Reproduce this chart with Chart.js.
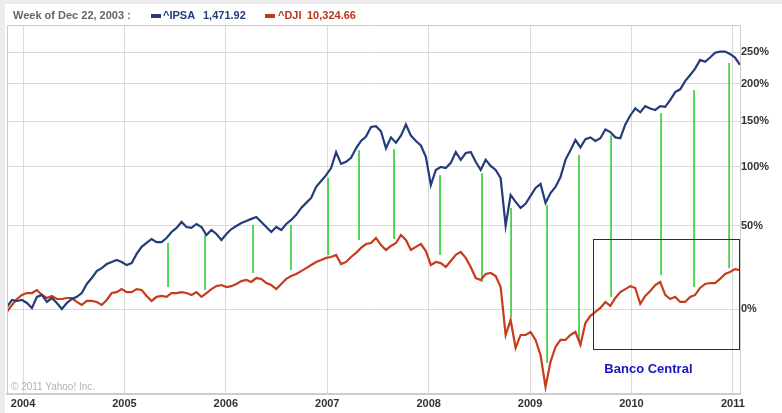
<!DOCTYPE html>
<html>
<head>
<meta charset="utf-8">
<script src="https://cdn.jsdelivr.net/npm/chart.js@4.4.1/dist/chart.umd.min.js"></script>
<style>
  body { margin: 0; background: #fff; }
  #wrap { position: relative; width: 782px; height: 413px; overflow: hidden; font-family: "Liberation Sans", Arial, sans-serif; }
  #wrap canvas { position: absolute; left: 0; top: 0; }
  .strip-top { position: absolute; left: 0; top: 0; width: 782px; height: 4px; background: #ececec; }
  .strip-left { position: absolute; left: 0; top: 0; width: 5px; height: 413px; background: #ececec; }
  .head { position: absolute; top: 9px; font-size: 11px; font-weight: bold; line-height: 13px; white-space: nowrap; }
  .swatch { position: absolute; top: 14px; width: 10px; height: 4px; }
  .copy { position: absolute; left: 11px; top: 381px; font-size: 10px; color: #b3b3b3; white-space: nowrap; }
</style>
</head>
<body>
<div id="wrap">
  <canvas id="ipsaChart" width="782" height="413"></canvas>
  <div class="strip-top"></div>
  <div class="strip-left"></div>
  <div class="head" style="left:13px;color:#666;">Week of Dec 22, 2003 :</div>
  <div class="swatch" style="left:151px;background:#243c7c;"></div>
  <div class="head" style="left:163px;color:#243c7c;">^IPSA</div>
  <div class="head" style="left:203px;color:#243c7c;">1,471.92</div>
  <div class="swatch" style="left:265px;background:#c0391c;"></div>
  <div class="head" style="left:278px;color:#b8371d;">^DJI</div>
  <div class="head" style="left:307px;color:#b8371d;">10,324.66</div>
  <div class="copy">© 2011 Yahoo! Inc.</div>
</div>
<script>
// weekly-ish samples, decimal years
const weekStart = 2003.842;
const weekStep = 0.04917;

// % change since Dec 22, 2003
const ipsaPct = [1.0, 4.5, 4.0, 4.5, 3.0, 0.5, 6.1, 7.1, 3.5, 5.5,
  3.0, 0.0, 3.0, 5.0, 6.1, 8.1, 13.0, 16.3, 20.3, 22.1,
  24.5, 25.8, 27.0, 25.8, 23.9, 25.1, 30.8, 35.4, 38.0, 40.7,
  38.6, 38.6, 41.4, 45.6, 48.5, 52.9, 49.2, 48.5, 51.4, 49.2,
  43.5, 47.0, 44.2, 40.0, 44.2, 47.7, 49.9, 52.1, 53.6, 55.2,
  56.7, 52.9, 49.2, 45.6, 49.2, 47.0, 51.4, 54.4, 58.3, 63.7,
  67.8, 71.9, 81.4, 86.7, 92.1, 98.9, 115, 103, 105, 109,
  119, 127, 132, 143, 144, 138, 119, 131, 125, 133,
  146, 133, 127, 122, 110, 83.1, 97.0, 100, 98.9, 104,
  115, 107, 114, 115, 105, 97.0, 107, 101, 97.0, 89.4,
  50.0, 74.4, 68.6, 63.7, 67.0, 73.6, 80.5, 84.0, 67.8, 76.1,
  81.4, 90.4, 107, 117, 128, 120, 129, 131, 127, 130,
  140, 137, 131, 130, 146, 157, 166, 161, 169, 166,
  164, 169, 168, 177, 188, 192, 204, 213, 223, 237,
  234, 241, 249, 251, 251, 247, 241, 229];

const djiPct = [-1.4, 2.0, 5.0, 7.1, 8.1, 8.1, 9.7, 7.1, 5.5, 6.6,
  5.0, 5.0, 5.5, 5.5, 3.5, 2.0, 4.0, 4.0, 3.5, 2.0,
  4.5, 8.1, 8.6, 10.2, 8.6, 8.6, 10.2, 9.7, 6.6, 4.0,
  6.1, 6.6, 6.1, 8.1, 8.1, 8.6, 8.1, 7.1, 8.6, 6.1,
  8.1, 10.2, 11.8, 12.4, 11.3, 11.8, 13.0, 14.6, 15.2, 14.1,
  16.3, 15.8, 13.5, 12.4, 10.2, 13.0, 15.8, 17.5, 18.6, 20.3,
  22.1, 23.9, 25.8, 27.0, 28.3, 28.9, 30.2, 24.5, 25.8, 28.9,
  31.5, 34.7, 37.3, 38.0, 41.4, 36.6, 33.4, 36.0, 38.0, 43.5,
  40.0, 33.4, 35.4, 37.3, 32.7, 23.9, 25.8, 25.1, 22.7, 26.4,
  30.2, 32.1, 28.3, 22.7, 16.3, 15.2, 18.6, 19.2, 17.5, 11.3,
  -11.9, -5.2, -17.3, -11.9, -11.9, -10.6, -14.0, -20.1, -31.6, -22.7,
  -16.9, -14.0, -14.0, -11.9, -10.6, -16.1, -6.6, -3.3, -1.4, 0.5,
  3.5, 1.5, 5.5, 8.6, 10.2, 11.8, 10.8, 2.5, 6.6, 9.2,
  12.4, 14.1, 7.1, 5.0, 6.1, 3.5, 3.5, 6.1, 7.1, 10.8,
  13.0, 13.5, 13.5, 15.8, 18.6, 19.8, 21.5, 20.9];

// green gap markers between the two series
const gapDates = [2005.43, 2005.795, 2006.268, 2006.643, 2007.008, 2007.314, 2007.659, 2008.112,
  2008.526, 2008.813, 2009.168, 2009.483, 2009.799, 2010.292, 2010.617, 2010.963];
const gapTop = [38.0, 43.5, 50.7, 50.7, 89.4, 117, 118, 92.1, 94, 63.7, 66.1, 112, 133, 160, 191, 232];
const gapBottom = [11.3, 9.7, 19.2, 20.9, 30.2, 40.0, 40.7, 30.2, 14.1, -3.8, -23.1, -14.8, 6.1, 18.0, 11.3, 22.1];

const yearTicks = [2004, 2005, 2006, 2007, 2008, 2009, 2010, 2011];
const pctTicks = [0, 50, 100, 150, 200, 250];

// "Banco Central" box
const boxDates = [2009.62, 2011.07];
const boxPct = [-17.7, 40.7];
const boxLabel = 'Banco Central';
const boxLabelAt = [2010.167, -25.4];

const ratio = p => 1 + p / 100;
const toPoints = arr => arr.map((p, i) => ({ x: weekStart + i * weekStep, y: ratio(p) }));

const gapPoints = [];
gapDates.forEach((d, i) => {
  gapPoints.push({ x: d, y: ratio(gapTop[i]) }, { x: d, y: ratio(gapBottom[i]) }, { x: d, y: null });
});

const tickFont = { family: '"Liberation Sans", Arial, sans-serif', size: 11, weight: 'bold' };

const frame = {
  id: 'frame',
  afterDatasetsDraw(chart) {
    const { ctx, chartArea: a, scales: { x, y } } = chart;
    ctx.save();
    ctx.strokeStyle = '#cccccc';
    ctx.lineWidth = 1;
    ctx.beginPath();
    ctx.moveTo(a.left + 0.5, a.bottom);
    ctx.lineTo(a.left + 0.5, a.top + 0.5);
    ctx.lineTo(a.right, a.top + 0.5);
    ctx.stroke();

    // box + label
    const x0 = Math.round(x.getPixelForValue(boxDates[0])) + 0.5;
    const x1 = Math.round(x.getPixelForValue(boxDates[1])) - 0.5;
    const y0 = Math.round(y.getPixelForValue(ratio(boxPct[1]))) + 0.5;
    const y1 = Math.round(y.getPixelForValue(ratio(boxPct[0]))) + 0.5;
    ctx.strokeStyle = '#1c1cb0';
    ctx.strokeRect(x0, y0, x1 - x0, y1 - y0);
    ctx.fillStyle = '#1616c0';
    ctx.font = 'bold 13px "Liberation Sans", Arial, sans-serif';
    ctx.textAlign = 'center';
    ctx.textBaseline = 'middle';
    ctx.fillText(boxLabel, x.getPixelForValue(boxLabelAt[0]), y.getPixelForValue(ratio(boxLabelAt[1])));
    ctx.restore();
  }
};

new Chart(document.getElementById('ipsaChart'), {
  type: 'line',
  data: {
    datasets: [
      { label: '^IPSA', data: toPoints(ipsaPct), borderColor: '#243c7c', borderWidth: 2.2, pointRadius: 0, tension: 0 },
      { label: '^DJI', data: toPoints(djiPct), borderColor: '#c63c1c', borderWidth: 2.2, pointRadius: 0, tension: 0 },
      { label: 'gap', data: gapPoints, borderColor: '#3fd23f', borderWidth: 1, pointRadius: 0, spanGaps: false }
    ]
  },
  options: {
    responsive: false,
    animation: false,
    layout: { padding: { left: 7, top: 25, right: 0, bottom: 0 } },
    plugins: { legend: { display: false }, tooltip: { enabled: false } },
    scales: {
      x: {
        type: 'linear',
        min: 2003.842,
        max: 2011.07,
        afterBuildTicks: s => { s.ticks = yearTicks.map(v => ({ value: v })); },
        afterFit: s => { s.height = 19; },
        grid: { color: '#dadada', drawTicks: false },
        border: { color: '#cccccc', width: 2 },
        ticks: { autoSkip: false, maxRotation: 0, padding: 3, color: '#333', font: tickFont, callback: v => String(v) }
      },
      y: {
        type: 'logarithmic',
        position: 'right',
        min: 0.6606,
        max: 3.996,
        afterBuildTicks: s => { s.ticks = pctTicks.map(p => ({ value: ratio(p) })); },
        afterFit: s => { s.width = 42; },
        grid: { color: '#dadada', drawTicks: false },
        border: { color: '#cccccc' },
        ticks: { padding: 1, color: '#333', font: tickFont, callback: v => Math.round((v - 1) * 100) + '%' }
      }
    }
  },
  plugins: [frame]
});
</script>
</body>
</html>
